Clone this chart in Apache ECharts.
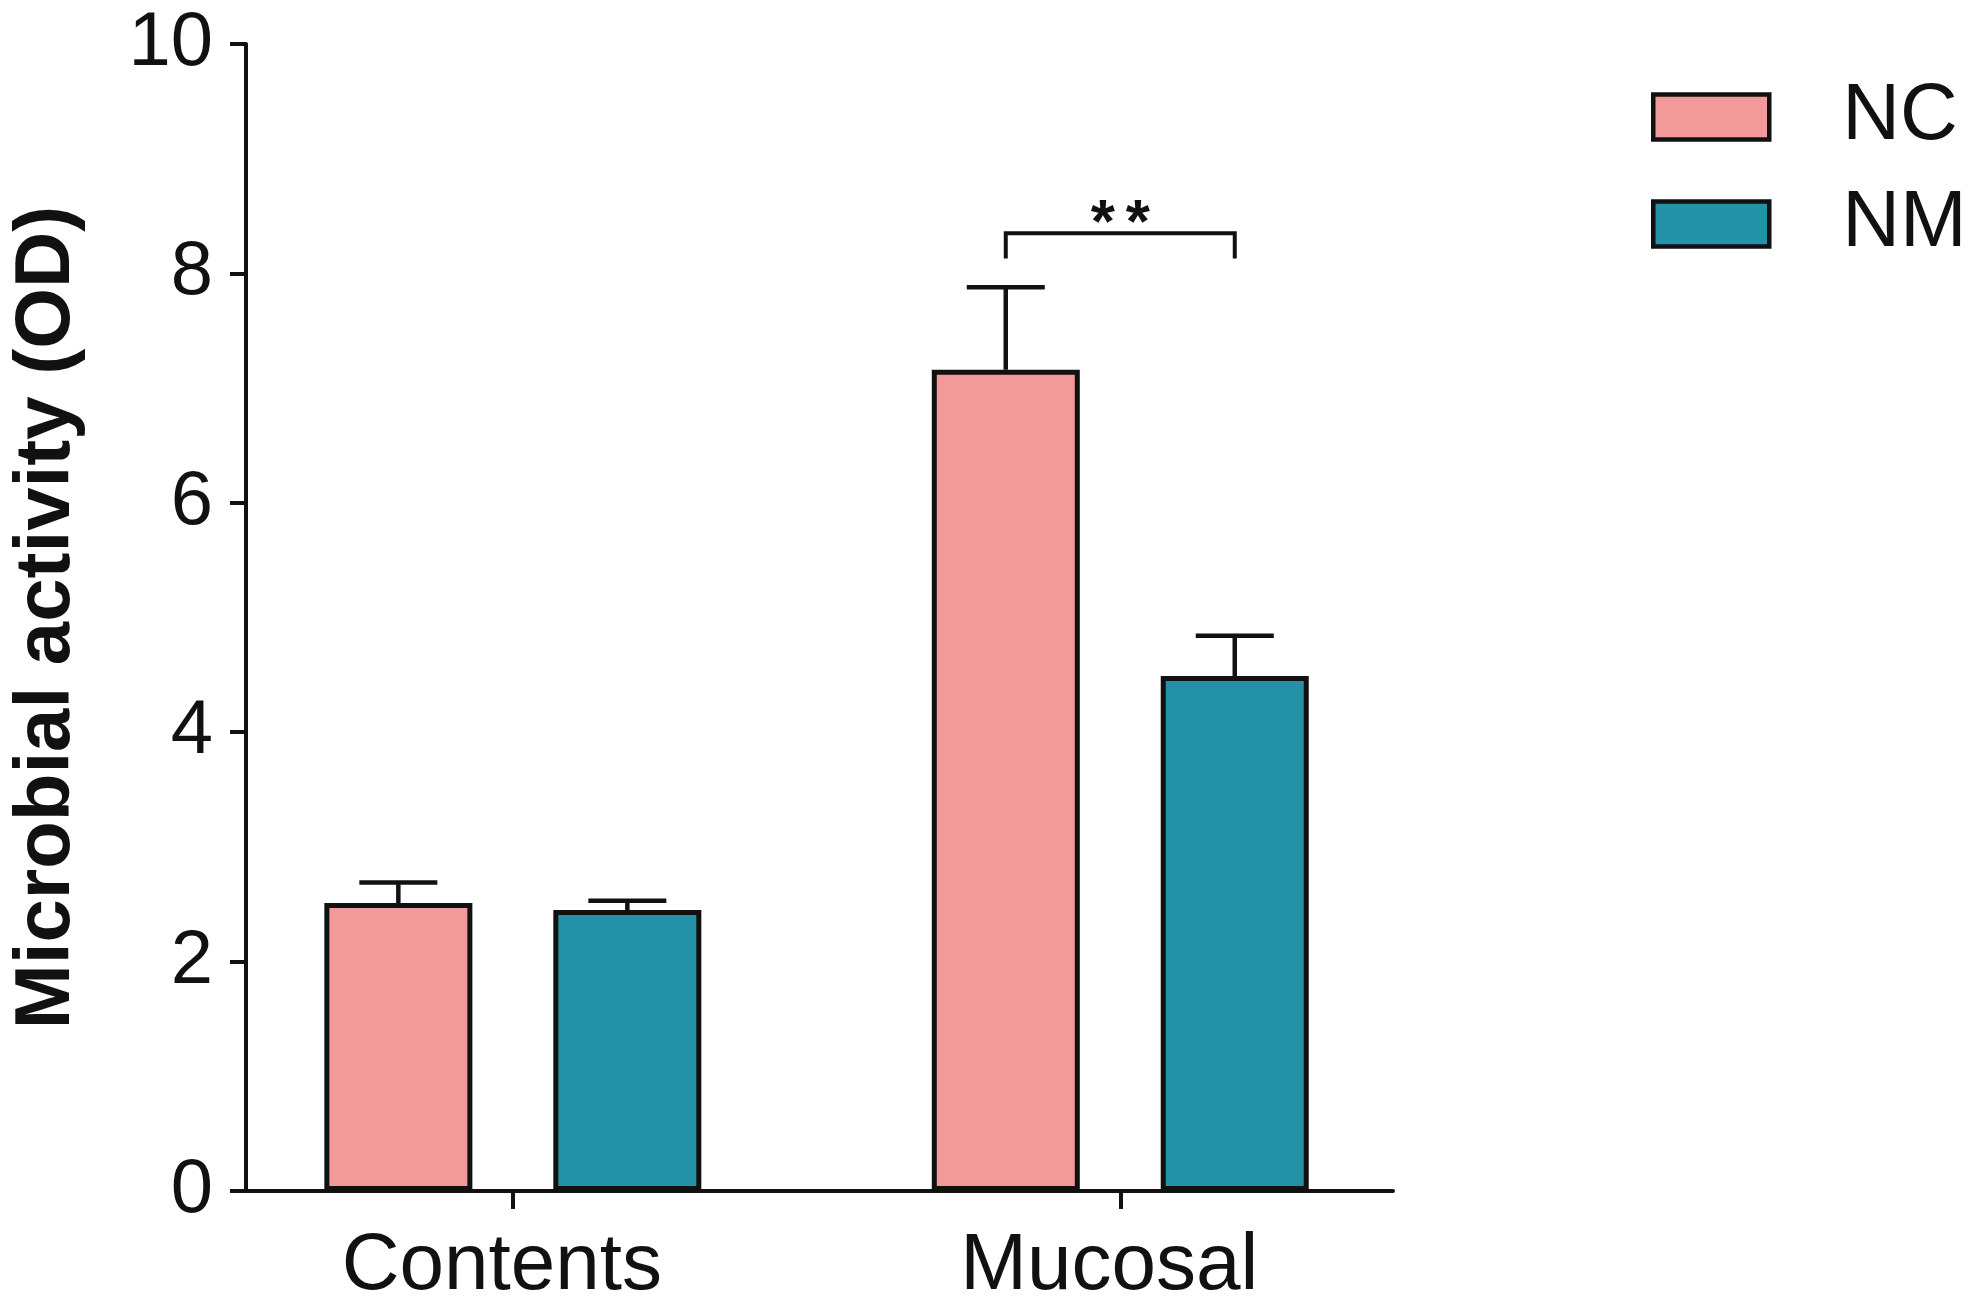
<!DOCTYPE html>
<html>
<head>
<meta charset="utf-8">
<title>Microbial activity</title>
<script src="https://cdn.jsdelivr.net/npm/echarts@6/dist/echarts.min.js"></script>
<style>
    html, body { margin: 0; padding: 0; background: #fff; }
    #chart { width: 1983px; height: 1309px; }
</style>
</head>
<body>
<div id="chart"></div>
<script>
// values
var categories = ['Contents', 'Mucosal'];
var seriesNames = ['NC', 'NM'];
var ncMean = [2.51, 7.16];
var ncErr = [0.18, 0.72];
var nmMean = [2.45, 4.49];
var nmErr = [0.08, 0.35];
var yTicks = [0, 2, 4, 6, 8, 10];
// significance bracket: category, bar level, leg end, text
var sigCat = [1];
var sigTop = [8.35];
var sigLeg = [8.13];
var sigText = ['**'];

var FONT = 'Liberation Sans';
var INK = '#111';
var BAR_W = 148;
var GAP_PX = 81;
var SHIFT = (BAR_W + GAP_PX) / 2;

function barData(means) {
    return means.map(function (v, i) { return [i, v]; });
}
function errData(means, errs) {
    return means.map(function (v, i) { return [i, v, errs[i]]; });
}

function errorBar(side) {
    return function (params, api) {
        var x = api.value(0), top = api.value(1), up = api.value(2);
        var p0 = api.coord([x, top]);
        var p1 = api.coord([x, top + up]);
        var cx = p0[0] + side * SHIFT;
        var style = { stroke: INK, lineWidth: 4.5 };
        return {
            type: 'group',
            children: [
                { type: 'line', shape: { x1: cx, y1: p0[1], x2: cx, y2: p1[1] }, style: style },
                { type: 'line', shape: { x1: cx - 39, y1: p1[1], x2: cx + 39, y2: p1[1] }, style: style }
            ]
        };
    };
}

var chart = echarts.init(document.getElementById('chart'));
chart.setOption({
    backgroundColor: '#fff',
    animation: false,
    textStyle: { fontFamily: FONT, color: INK },
    grid: { left: 241, right: 590, top: 44, bottom: 118, containLabel: false },
    legend: {
        data: seriesNames,
        orient: 'vertical',
        left: 1646,
        top: 72,
        icon: 'rect',
        itemWidth: 116,
        itemHeight: 45,
        itemGap: 27,
        itemStyle: { borderColor: INK, borderWidth: 4.5 },
        textStyle: { fontFamily: FONT, fontSize: 80, color: INK, padding: [0, 0, 0, 68] }
    },
    xAxis: {
        type: 'value',
        min: -0.4393,
        max: 1.449,
        axisLine: { show: true, onZero: false, lineStyle: { color: INK, width: 4 } },
        axisTick: { show: true, customValues: [0, 1], length: 18, lineStyle: { color: INK, width: 4 } },
        axisLabel: {
            customValues: [0, 1],
            formatter: function (v) { return categories[Math.round(v)]; },
            fontSize: 80,
            fontFamily: FONT,
            color: INK,
            margin: 36,
            padding: [0, 22, 0, 0]
        },
        splitLine: { show: false }
    },
    yAxis: {
        type: 'value',
        min: yTicks[0],
        max: yTicks[yTicks.length - 1],
        interval: 2,
        name: 'Microbial activity (OD)',
        nameLocation: 'middle',
        nameGap: 160,
        nameTextStyle: { fontFamily: FONT, fontSize: 78, fontWeight: 'bold', color: INK },
        axisLine: { show: true, onZero: false, lineStyle: { color: INK, width: 4 } },
        axisTick: { show: true, length: 16, lineStyle: { color: INK, width: 4 } },
        axisLabel: { fontSize: 76, fontFamily: FONT, color: INK, margin: 33 },
        splitLine: { show: false }
    },
    series: [
        {
            name: 'NC',
            type: 'bar',
            data: barData(ncMean),
            barWidth: BAR_W,
            barGap: (GAP_PX / BAR_W * 100).toFixed(1) + '%',
            itemStyle: { color: '#F29A9A', borderColor: INK, borderWidth: 5 },
            z: 3
        },
        {
            name: 'NM',
            type: 'bar',
            data: barData(nmMean),
            barWidth: BAR_W,
            itemStyle: { color: '#2391A8', borderColor: INK, borderWidth: 5 },
            z: 3
        },
        {
            type: 'custom',
            renderItem: errorBar(-1),
            data: errData(ncMean, ncErr),
            z: 2,
            silent: true
        },
        {
            type: 'custom',
            renderItem: errorBar(1),
            data: errData(nmMean, nmErr),
            z: 2,
            silent: true
        },
        {
            type: 'custom',
            silent: true,
            data: sigCat.map(function (c, i) { return [c, sigTop[i], sigLeg[i]]; }),
            renderItem: function (params, api) {
                var pTop = api.coord([api.value(0), api.value(1)]);
                var pLeg = api.coord([api.value(0), api.value(2)]);
                var l = pTop[0] - SHIFT, r = pTop[0] + SHIFT;
                var chars = sigText[params.dataIndex].split('');
                var children = [{
                    type: 'polyline',
                    shape: { points: [[l, pLeg[1]], [l, pTop[1]], [r, pTop[1]], [r, pLeg[1]]] },
                    style: { stroke: INK, lineWidth: 4, fill: null }
                }];
                chars.forEach(function (ch, k) {
                    children.push({
                        type: 'text',
                        style: {
                            text: ch,
                            x: pTop[0] + (k - (chars.length - 1) / 2) * 35,
                            y: pTop[1] - 8,
                            align: 'center',
                            verticalAlign: 'middle',
                            font: 'bold 62px "' + FONT + '"',
                            fill: INK
                        }
                    });
                });
                return { type: 'group', children: children };
            }
        }
    ]
});
</script>
</body>
</html>
